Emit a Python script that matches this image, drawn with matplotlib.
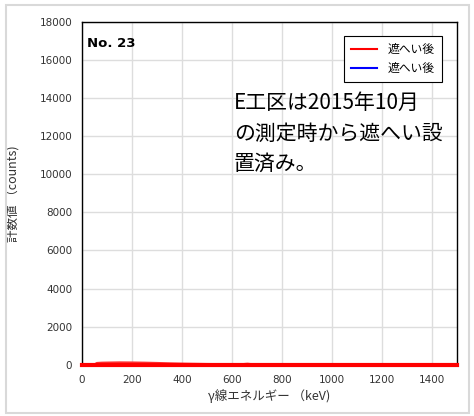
import matplotlib.pyplot as plt
from matplotlib.lines import Line2D
from matplotlib.patches import Rectangle

plt.rcParams['font.family'] = ['Noto Sans CJK JP', 'DejaVu Sans']

# Spectrum (counts are tiny compared to the axis range)
energy_red = [0, 50, 60, 80, 100, 150, 200, 250, 300, 350, 400, 450, 500,
              550, 600, 640, 662, 680, 700, 800, 1000, 1200, 1400, 1500]
counts_red = [0, 0, 80, 95, 100, 110, 105, 95, 80, 60, 45, 35, 25,
              20, 15, 15, 40, 15, 10, 8, 5, 3, 2, 2]
energy_blue = [50, 60, 80, 100, 150, 200, 250, 300, 350, 400, 500]
counts_blue = [0, 40, 50, 55, 60, 55, 45, 35, 20, 10, 5]

x_ticks = [0, 200, 400, 600, 800, 1000, 1200, 1400]
y_ticks = [0, 2000, 4000, 6000, 8000, 10000, 12000, 14000, 16000, 18000]

fig = plt.figure(figsize=(4.74, 4.16), dpi=100)
ax = fig.add_axes([0.173, 0.123, 0.791, 0.825])

ax.plot(energy_blue, counts_blue, color='blue', lw=1.5)
ax.plot(energy_red, counts_red, color='#ff3030', lw=2, zorder=3)
ax.axhline(0, color='red', lw=3, zorder=4, clip_on=False)

ax.set_xlim(0, 1500)
ax.set_ylim(0, 18000)
ax.set_xticks(x_ticks)
ax.set_yticks(y_ticks)
ax.tick_params(length=0, labelsize=7.5, colors='#333333', pad=7)
for lab in ax.get_xticklabels() + ax.get_yticklabels():
    lab.set_family('DejaVu Sans')
ax.grid(color='#dddddd', lw=1)
ax.set_axisbelow(True)
for s in ax.spines.values():
    s.set_color('black')
    s.set_linewidth(1)

ax.set_xlabel('γ線エネルギー （keV)', fontsize=9, color='#333333', labelpad=3)
ax.set_ylabel('計数値 （counts)', fontsize=9, color='#333333', labelpad=14)

ax.text(0.012, 0.935, 'No. 23', transform=ax.transAxes, fontsize=9.5,
        fontweight='bold', va='center', family=['DejaVu Sans'])
ax.text(0.405, 0.795, 'E工区は2015年10月\nの測定時から遮へい設\n置済み。',
        transform=ax.transAxes, fontsize=15, va='top', linespacing=1.5)

handles = [Line2D([], [], color='red', lw=1.5), Line2D([], [], color='blue', lw=1.5)]
leg = ax.legend(handles, ['遮へい後', '遮へい後'], loc='upper right',
                bbox_to_anchor=(0.975, 0.975), fontsize=8.5, fancybox=False,
                edgecolor='black', framealpha=1, handlelength=2.2,
                borderpad=0.6, labelspacing=0.5, handletextpad=0.9)
leg.get_frame().set_linewidth(0.8)

fig.patches.append(Rectangle((0.012, 0.008), 0.978, 0.98, transform=fig.transFigure,
                             fill=False, edgecolor='#d9d9d9', lw=1.5))

fig.savefig('out.png', dpi=100)
